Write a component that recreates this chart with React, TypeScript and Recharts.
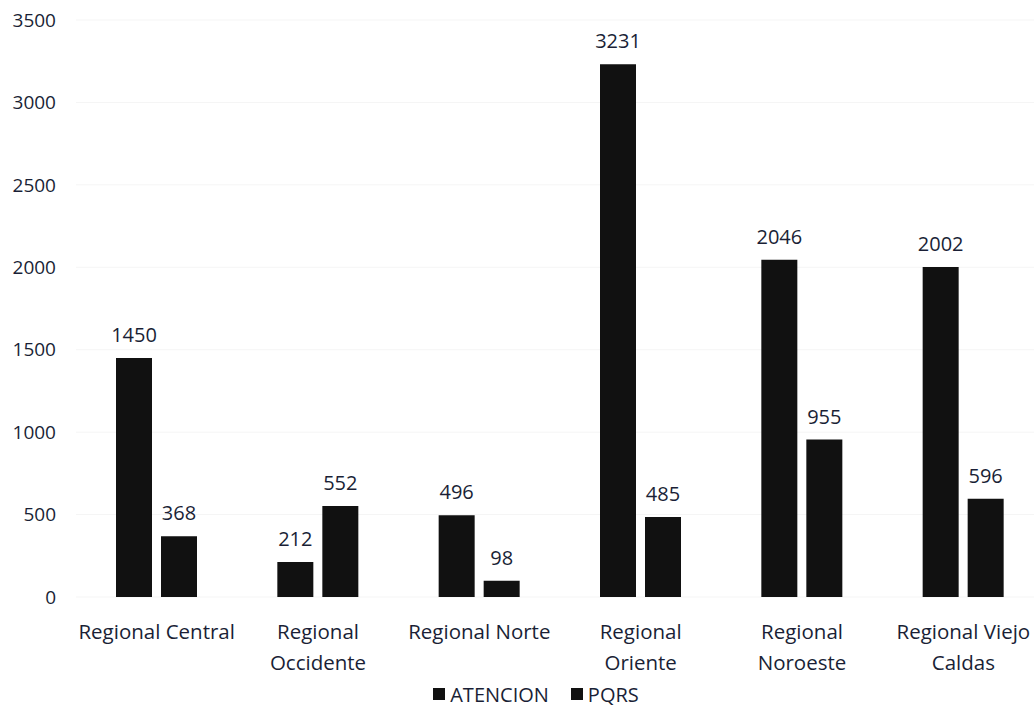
import React from "react";
import { BarChart, Bar, XAxis, YAxis, CartesianGrid, Legend, LabelList } from "recharts";

const categories = [
  "Regional Central",
  "Regional Occidente",
  "Regional Norte",
  "Regional Oriente",
  "Regional Noroeste",
  "Regional Viejo Caldas",
];
const tickLines: string[][] = [
  ["Regional Central"],
  ["Regional", "Occidente"],
  ["Regional Norte"],
  ["Regional", "Oriente"],
  ["Regional", "Noroeste"],
  ["Regional Viejo", "Caldas"],
];
const atencion = [1450, 212, 496, 3231, 2046, 2002];
const pqrs = [368, 552, 98, 485, 955, 596];
const yTicks = [0, 500, 1000, 1500, 2000, 2500, 3000, 3500];

const data = categories.map((c, i) => ({
  name: c,
  ATENCION: atencion[i],
  PQRS: pqrs[i],
}));

const FONT = "'Open Sans', 'Noto Sans', sans-serif";
const TEXT = "#1a1f36";

const CatTick = (props: any) => {
  const { x, y, index } = props;
  const lines = tickLines[index] || [props.payload.value];
  return (
    <g>
      {lines.map((l, k) => (
        <text
          key={k}
          x={x}
          y={y + 26 + k * 31}
          textAnchor="middle"
          dominantBaseline="central"
          fontSize={20.5}
          fontFamily={FONT}
          fill={TEXT}
        >
          {l}
        </text>
      ))}
    </g>
  );
};

const renderLegend = () => (
  <div
    style={{
      display: "flex",
      justifyContent: "center",
      alignItems: "center",
      fontFamily: FONT,
      fontSize: 20,
      color: TEXT,
      height: 28,
      paddingLeft: 28,
    }}
  >
    {["ATENCION", "PQRS"].map((n, i) => (
      <span key={n} style={{ display: "flex", alignItems: "center", marginLeft: i ? 22 : 0 }}>
        <span style={{ width: 12, height: 12, background: "#111", display: "inline-block", marginRight: 5 }} />
        {n}
      </span>
    ))}
  </div>
);

export default function App() {
  return (
    <div style={{ position: "absolute", left: 0, top: 0, width: 1034, height: 708, overflow: "hidden", background: "#fff" }}>
      <BarChart
        width={1044}
        height={708}
        data={data}
        margin={{ top: 20, right: 0, left: 0, bottom: 0 }}
        barGap={9}
        barSize={36}
      >
        <CartesianGrid vertical={false} stroke="#f5f5f5" />
        <XAxis
          dataKey="name"
          axisLine={false}
          tickLine={false}
          height={83}
          interval={0}
          tick={<CatTick />}
        />
        <YAxis
          width={76}
          domain={[0, 3500]}
          ticks={yTicks}
          axisLine={false}
          tickLine={false}
          tickSize={0}
          tickMargin={20}
          tick={{ fontSize: 19, fontFamily: FONT, fill: TEXT }}
        />
        <Legend verticalAlign="bottom" height={28} content={renderLegend} />
        <Bar dataKey="ATENCION" fill="#111111" isAnimationActive={false}>
          <LabelList dataKey="ATENCION" position="top" offset={16} fontSize={20} fontFamily={FONT} fill={TEXT} />
        </Bar>
        <Bar dataKey="PQRS" fill="#111111" isAnimationActive={false}>
          <LabelList dataKey="PQRS" position="top" offset={16} fontSize={20} fontFamily={FONT} fill={TEXT} />
        </Bar>
      </BarChart>
    </div>
  );
}
